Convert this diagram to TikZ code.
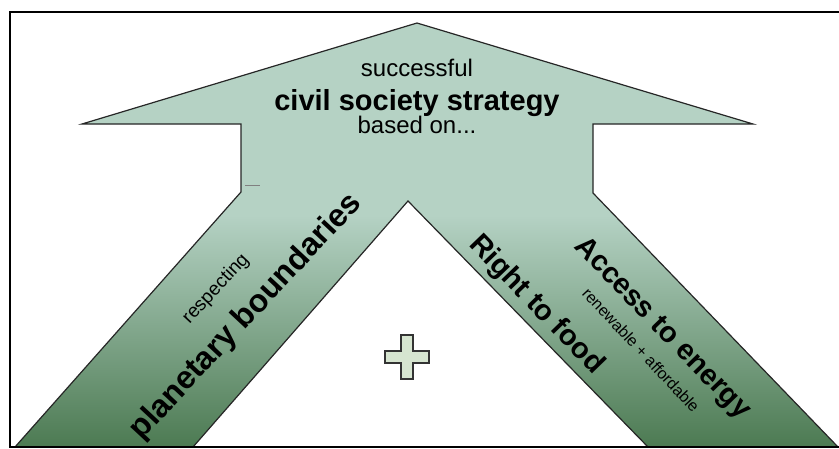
\documentclass[tikz,border=0pt]{standalone}
\usepackage{fontspec}
\setmainfont{Liberation Sans}
\definecolor{mintlight}{RGB}{181,210,196}
\definecolor{leafdark}{RGB}{76,122,82}
\definecolor{crossfill}{RGB}{214,229,208}

\begin{document}
\begin{tikzpicture}[x=1pt,y=-1pt,
    outline/.style={draw=black!85, line width=1.2pt, line join=miter},
    plain/.style={font=\fontsize{24}{26}\selectfont, inner sep=0pt},
    heading/.style={font=\bfseries\fontsize{29}{32}\selectfont, inner sep=0pt},
    legtext/.style={font=\bfseries\fontsize{29}{32}\selectfont, inner sep=0pt},
    legsmall/.style={font=\fontsize{19}{20}\selectfont, inner sep=0pt},
    tiny/.style={font=\fontsize{16}{18}\selectfont, inner sep=0pt}
    ]
    \useasboundingbox (0,0) rectangle (839,448);
    \coordinate (BL) at (15,447);
    \coordinate (LS) at (241,192);
    \coordinate (LH) at (241,124);
    \coordinate (LT) at (82,124);
    \coordinate (TOP) at (417,23);
    \coordinate (RT) at (753,124);
    \coordinate (RH) at (593,124);
    \coordinate (RS) at (593,193);
    \coordinate (BR) at (838,447);
    \coordinate (RI) at (648,447);
    \coordinate (NOTCH) at (408,201);
    \coordinate (LI) at (193,447);
    \begin{scope}
    \clip (BL) -- (LS) -- (LH) -- (LT) -- (TOP) -- (RT) -- (RH) -- (RS)
        -- (BR) -- (RI) -- (NOTCH) -- (LI) -- cycle;
    \fill[mintlight] (0,0) rectangle (839,448);
    \shade[top color=mintlight, bottom color=leafdark] (0,215) rectangle (839,448);
    \end{scope}
    \draw[outline] (BL) -- (LS) -- (LH) -- (LT) -- (TOP) -- (RT) -- (RH) -- (RS)
        -- (BR) -- (RI) -- (NOTCH) -- (LI) -- cycle;
    \draw[line width=1.5pt] (10,12) rectangle (850,447);
    \draw[gray, line width=0.6pt] (245,185) -- (260,185);
    \node[plain, anchor=base] (succ) at (417,76) {successful};
    \node[heading, anchor=base] (civil) at (417,110) {civil society strategy};
    \node[plain, anchor=base] (based) at (417,133) {based on...};
    \node[legsmall, rotate=47] (resp) at (216,289) {respecting};
    \node[legtext, font=\bfseries\fontsize{32}{34}\selectfont, rotate=47] (planet) at (246,317) {planetary boundaries};
    \node[legtext, rotate=-46] (food) at (536,305) {Right to food};
    \node[legtext, rotate=-46] (energy) at (662,329) {Access to energy};
    \node[tiny, rotate=-47] (renew) at (641,350) {renewable + affordable};
    \draw[fill=crossfill, draw=black!80, line width=1.6pt] (401,335) -- (413,335)
        -- (413,351) -- (429,351) -- (429,363) -- (413,363) -- (413,379)
        -- (401,379) -- (401,363) -- (385,363) -- (385,351) -- (401,351) -- cycle;
\end{tikzpicture}
\end{document}
